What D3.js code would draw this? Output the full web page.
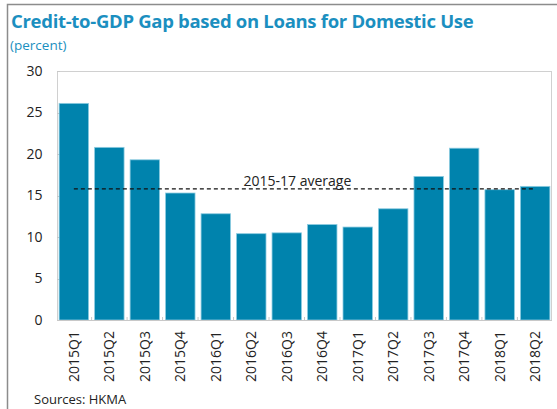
<!DOCTYPE html>
<html>
<head>
<meta charset="utf-8">
<script src="https://cdn.jsdelivr.net/npm/d3@7"></script>
<style>
  body { margin: 0; background: #fff; }
  svg { display: block; font-family: "Open Sans", "Noto Sans", sans-serif; }
</style>
</head>
<body>
<svg id="chart" width="557" height="409"></svg>
<script>
// data
const quarters = ["2015Q1","2015Q2","2015Q3","2015Q4","2016Q1","2016Q2","2016Q3","2016Q4",
                  "2017Q1","2017Q2","2017Q3","2017Q4","2018Q1","2018Q2"];
const gapValues = [26.1, 20.8, 19.3, 15.3, 12.8, 10.4, 10.5, 11.5, 11.2, 13.4, 17.3, 20.7, 15.7, 16.1];
const average = 15.8;
const yTicks = [0, 5, 10, 15, 20, 25, 30];

const svg = d3.select("#chart");
const W = 557, H = 409;
const m = { top: 71, right: 5, bottom: 89, left: 57 };
const blue = "#0083ad", teal = "#1b8fc0";

// outer frame (left + top)
svg.append("path").attr("d", `M7.5,${H} V4.5 H${W}`)
  .attr("fill", "none").attr("stroke", "#8c8c8c").attr("stroke-width", 1.5);

svg.append("text").attr("x", 11).attr("y", 28)
  .attr("font-size", 18.5).attr("font-weight", "bold").attr("fill", teal)
  .attr("letter-spacing", -0.3)
  .text("Credit-to-GDP Gap based on Loans for Domestic Use");
svg.append("text").attr("x", 10).attr("y", 50)
  .attr("font-size", 13.5).attr("fill", teal).text("(percent)");

const x = d3.scaleBand().domain(quarters)
  .range([m.left, W - m.right]).paddingInner(0.17).paddingOuter(0.06);
const y = d3.scaleLinear().domain([0, 30]).range([H - m.bottom, m.top]);

// plot frame
svg.append("rect").attr("x", m.left + 0.5).attr("y", m.top + 0.5)
  .attr("width", W - m.right - m.left - 1).attr("height", y(0) - m.top)
  .attr("fill", "none").attr("stroke", "#d0d0d0");

// y axis
const yAx = svg.append("g").attr("transform", `translate(${m.left + 0.5},0)`)
  .call(d3.axisLeft(y).tickValues(yTicks).tickSize(0).tickPadding(15));
yAx.select(".domain").remove();
yAx.selectAll("text").attr("font-size", 14).attr("fill", "#222")
  .attr("font-family", "Open Sans, sans-serif");
svg.append("g").selectAll("line").data(yTicks).join("line")
  .attr("x1", m.left).attr("x2", m.left + 3)
  .attr("y1", d => Math.round(y(d)) + 0.5).attr("y2", d => Math.round(y(d)) + 0.5)
  .attr("stroke", "#c8c8c8");

// bars
svg.append("g").selectAll("rect").data(quarters).join("rect")
  .attr("x", d => x(d)).attr("width", x.bandwidth())
  .attr("y", (d, i) => y(gapValues[i]))
  .attr("height", (d, i) => y(0) - y(gapValues[i]))
  .attr("fill", blue).attr("stroke", "#8ccbe0").attr("stroke-width", 0.8);

// x axis
const step = x.step();
svg.append("line").attr("x1", m.left).attr("x2", W - m.right)
  .attr("y1", y(0) + 0.5).attr("y2", y(0) + 0.5).attr("stroke", "#c8c8c8");
svg.append("g").selectAll("line").data(quarters.slice(1)).join("line")
  .attr("x1", d => x(d) - step * 0.085).attr("x2", d => x(d) - step * 0.085)
  .attr("y1", y(0)).attr("y2", y(0) - 3).attr("stroke", "#c8c8c8");
const xAx = svg.append("g").attr("transform", `translate(0,${y(0)})`)
  .call(d3.axisBottom(x).tickSize(0).tickPadding(0));
xAx.select(".domain").remove();
xAx.selectAll("text")
  .attr("font-size", 14).attr("fill", "#222").attr("font-family", "Open Sans, sans-serif")
  .attr("text-anchor", "end").attr("dy", "0.35em")
  .attr("transform", "translate(0,11) rotate(-90)");

// average line
const first = quarters[0], last = quarters[quarters.length - 1];
svg.append("line")
  .attr("x1", x(first) + x.bandwidth() / 2).attr("x2", x(last) + x.bandwidth() / 2)
  .attr("y1", y(average)).attr("y2", y(average))
  .attr("stroke", "#111").attr("stroke-width", 1.2).attr("stroke-dasharray", "4,3");
svg.append("text").attr("x", x("2016Q3") + x.bandwidth() / 2 + step * 0.3).attr("y", y(average) - 3)
  .attr("text-anchor", "middle").attr("font-size", 14).attr("fill", "#222")
  .text("2015-17 average");

svg.append("text").attr("x", 34).attr("y", 404)
  .attr("font-size", 13).attr("fill", "#222").text("Sources: HKMA");
</script>
</body>
</html>
